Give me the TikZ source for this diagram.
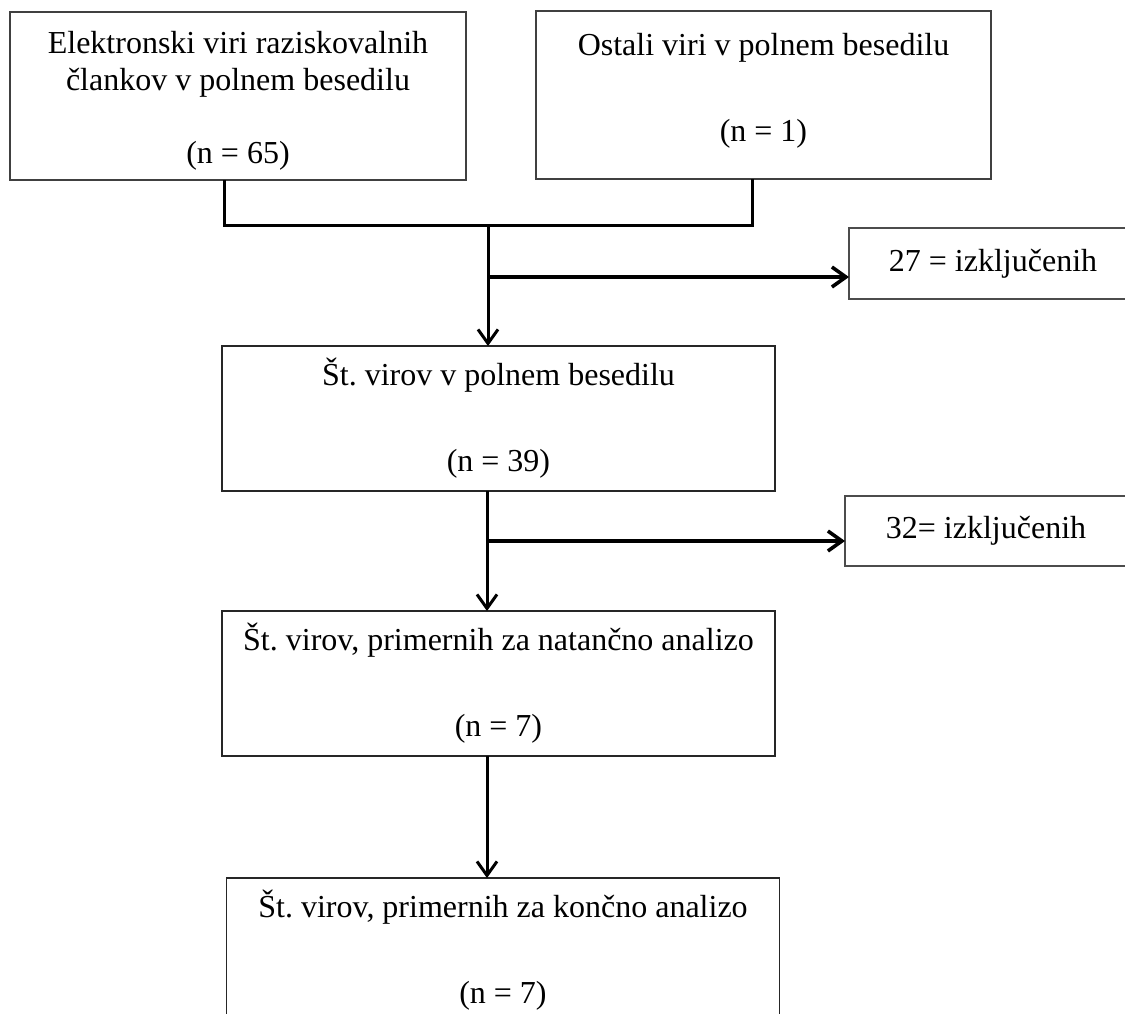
\documentclass[tikz,border=0pt]{standalone}
\usepackage{fontspec}
\setmainfont{Liberation Serif}
\usetikzlibrary{arrows.meta,positioning}

\begin{document}
\begin{tikzpicture}[x=0.5pt, y=-0.5pt,
  every node/.style={font=\fontsize{16}{18.5}\selectfont},
  srcbox/.style={draw=black!75, line width=0.6pt, inner sep=0pt, outer sep=0pt,
                 align=center, minimum height=84pt},
  stagebox/.style={draw=black!85, line width=0.6pt, inner sep=0pt, outer sep=0pt,
                   align=center, minimum width=276.5pt, minimum height=72.5pt},
  exbox/.style={draw=black!70, line width=0.6pt, inner sep=0pt, outer sep=0pt,
                minimum height=35.5pt},
  link/.style={line width=1.5pt},
  flow/.style={line width=1.5pt, -{Straight Barb[length=7pt,width=10pt]}},
  side/.style={flow, line width=1.8pt}]
  \useasboundingbox (0,0) rectangle (1125,1013);

  % sources
  \node[srcbox, minimum width=228pt] (src) at (238,96)
        {\rule{0pt}{16pt}Elektronski viri raziskovalnih\\člankov v polnem besedilu\\[18pt](n = 65)};
  \node[srcbox, minimum width=227.5pt] (oth) at (763.5,95)
        {Ostali viri v polnem besedilu\\[24.5pt](n = 1)\\[-10.5pt]};

  % stages
  \node[stagebox] (full) at (498.5,418.5)
        {Št.\ virov v polnem besedilu\\[24.5pt](n = 39)};
  \node[stagebox, below=60pt of full] (fine)
        {Št.\ virov, primernih za natančno analizo\\[24.5pt](n = 7)};
  \node[stagebox, below=61pt of fine, xshift=2.25pt] (final)
        {Št.\ virov, primernih za končno analizo\\[24.5pt](n = 7)};

  % exclusions
  \node[exbox, minimum width=144pt] (ex1) at (993,263.5) {27 = izključenih};
  \node[exbox, minimum width=141pt, minimum height=35pt] (ex2) at (986,531) {32= izključenih};

  \coordinate (jl) at (224,225);
  \coordinate (jr) at (752,225);
  \coordinate (jm) at (488,225);
  \coordinate (a1) at (488,277);
  \coordinate (a2) at (487,541);

  \draw[link] (src.south -| jl) -- (jl) -- (jr) -- (oth.south -| jr);
  \draw[flow] (jm) -- (jm |- full.north);
  \draw[side] (a1) -- (a1 -| ex1.west);
  \draw[flow] (full.south -| a2) -- (a2 |- fine.north);
  \draw[side] (a2) -- (a2 -| ex2.west);
  \draw[flow] (fine.south -| a2) -- (a2 |- final.north);
\end{tikzpicture}
\end{document}
